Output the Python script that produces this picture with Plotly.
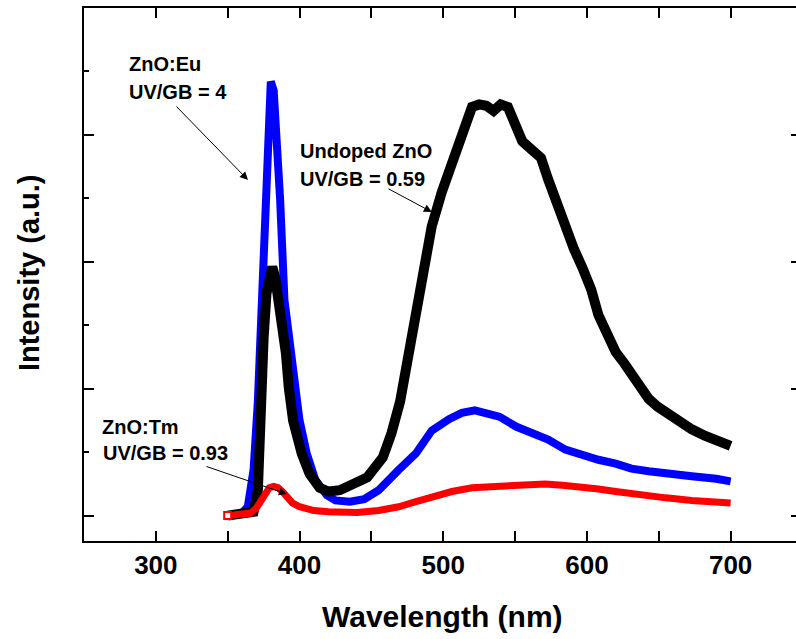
import plotly.graph_objects as go

# ---- data ----
wl_undoped = [350, 360, 368, 371, 372, 373, 375, 377, 379, 381, 383, 385, 388, 390.5, 392.5, 395.5,
              401.5, 407, 414, 420, 428, 437, 447, 458, 464, 470, 474, 481, 487, 492, 499, 504,
              511, 516, 520, 525, 530, 535, 540, 545, 549, 555, 562, 568, 573, 578, 585, 591,
              597, 603, 608, 614, 620, 626, 631, 637, 643, 649, 655, 664, 673, 682, 690, 696, 700]
int_undoped = [0.0, 0.01, 0.03, 0.2, 0.6, 1.0, 1.4, 1.75, 1.92, 1.96, 1.88, 1.75, 1.55, 1.28, 1.01, 0.75,
               0.49, 0.33, 0.22, 0.19, 0.2, 0.24, 0.3, 0.46, 0.65, 0.9, 1.15, 1.55, 1.95, 2.28, 2.55, 2.72,
               2.95, 3.12, 3.22, 3.24, 3.23, 3.19, 3.24, 3.22, 3.1, 2.95, 2.88, 2.82, 2.65, 2.5, 2.25, 2.1,
               1.95, 1.78, 1.58, 1.42, 1.29, 1.2, 1.12, 1.0, 0.92, 0.86, 0.81, 0.75, 0.68, 0.63, 0.59, 0.56, 0.55]

wl_eu = [350, 360, 364, 368, 371, 373.5, 376, 378, 380, 382, 384.3, 386.5, 389.5, 392, 395, 397,
         400, 405, 411, 419, 425, 435, 445, 455, 462, 469, 481, 492, 504, 513, 522, 530, 539,
         551, 562, 573, 585, 597, 608, 620, 631, 643, 655, 673, 690, 700]
int_eu = [0.0, 0.02, 0.07, 0.36, 0.9, 1.6, 2.49, 3.0, 3.42, 3.35, 3.0, 2.49, 1.7, 1.5, 1.25, 1.0,
          0.75, 0.49, 0.28, 0.16, 0.12, 0.11, 0.13, 0.2, 0.27, 0.36, 0.49, 0.67, 0.76, 0.81, 0.83, 0.81, 0.78,
          0.7, 0.65, 0.6, 0.52, 0.47, 0.44, 0.41, 0.37, 0.35, 0.34, 0.31, 0.29, 0.27]

wl_tm = [350, 360, 366, 370, 373, 376, 379, 382, 385, 388, 391, 395, 400, 410, 420, 440, 455, 469,
         481, 492, 506, 520, 533, 546, 559, 571, 583, 594, 608, 620, 631, 643, 655, 673, 690, 700]
int_tm = [0.0, 0.01, 0.02, 0.06, 0.12, 0.18, 0.22, 0.23, 0.22, 0.19, 0.15, 0.1, 0.07, 0.04, 0.03, 0.025, 0.04, 0.07,
          0.11, 0.15, 0.19, 0.22, 0.23, 0.24, 0.24, 0.25, 0.24, 0.23, 0.21, 0.19, 0.17, 0.15, 0.14, 0.12, 0.11, 0.1]

x_major_ticks = [300, 400, 500, 600, 700]
x_tick_labels = ["300", "400", "500", "600", "700"]

# annotation texts
label_lines = [
    ("ZnO:Eu", 279.9, 3.56),
    ("UV/GB = 4", 279.9, 3.34),
    ("Undoped ZnO", 398.9, 2.87),
    ("UV/GB = 0.59", 398.9, 2.65),
    ("ZnO:Tm", 261.1, 0.70),
    ("UV/GB = 0.93", 261.8, 0.49),
]
# arrows: (tail_x, tail_y, head_x, head_y)
arrows = [
    (313.3, 3.236, 364.1, 2.645),
    (460.8, 2.582, 492.1, 2.392),
    (334.2, 0.391, 391.2, 0.170),
]

FONT = "Liberation Sans"

fig = go.Figure()
fig.add_trace(go.Scatter(x=wl_eu, y=int_eu, mode="lines",
                         line=dict(color="#0000ff", width=8), showlegend=False, name="ZnO:Eu"))
fig.add_trace(go.Scatter(x=wl_undoped, y=int_undoped, mode="lines",
                         line=dict(color="#000000", width=10), showlegend=False, name="Undoped ZnO"))
fig.add_trace(go.Scatter(x=wl_tm, y=int_tm, mode="lines",
                         line=dict(color="#ff0000", width=7), showlegend=False, name="ZnO:Tm"))
# first Tm point drawn as an open square, as in the reference
fig.add_trace(go.Scatter(x=wl_tm[:1], y=int_tm[:1], mode="markers",
                         marker=dict(symbol="square", size=7, color="white",
                                     line=dict(color="#ff0000", width=2)),
                         showlegend=False, hoverinfo="skip"))
# empty trace to anchor the right-hand tick axis
fig.add_trace(go.Scatter(x=[], y=[], yaxis="y2", showlegend=False))

annotations = []
for txt, x, y in label_lines:
    annotations.append(dict(x=x, y=y, xref="x", yref="y", text="<b>%s</b>" % txt,
                            showarrow=False, xanchor="left", yanchor="middle",
                            font=dict(family=FONT, size=20, color="black")))
for tx, ty, hx, hy in arrows:
    annotations.append(dict(x=hx, y=hy, ax=tx, ay=ty, xref="x", yref="y", axref="x", ayref="y",
                            text="", showarrow=True, arrowhead=2, arrowsize=1.6, arrowwidth=1,
                            arrowcolor="black"))
annotations.append(dict(x=-0.077, y=0.503, xref="paper", yref="paper", text="<b>Intensity (a.u.)</b>",
                        textangle=-90, showarrow=False, xanchor="center", yanchor="middle",
                        font=dict(family=FONT, size=29, color="black")))
annotations.append(dict(x=0.504, y=-0.142, xref="paper", yref="paper", text="<b>Wavelength (nm)</b>",
                        showarrow=False, xanchor="center", yanchor="middle",
                        font=dict(family=FONT, size=30, color="black")))

fig.update_layout(
    width=796, height=639,
    margin=dict(l=84, r=0, t=8, b=98),
    paper_bgcolor="white", plot_bgcolor="white",
    annotations=annotations,
    xaxis=dict(range=[250, 745.5], showgrid=False, zeroline=False,
               showline=True, linecolor="black", linewidth=2, mirror="allticks",
               ticks="inside", ticklen=10, tickwidth=1.5, tickcolor="black",
               tickvals=x_major_ticks, ticktext=["<b>%s</b>" % t for t in x_tick_labels],
               tickfont=dict(family=FONT, size=26, color="black"),
               minor=dict(ticks="inside", ticklen=5, tickwidth=1.5, tickcolor="black", dtick=50, tick0=250)),
    yaxis=dict(range=[-0.2, 4.0], showgrid=False, zeroline=False,
               showline=True, linecolor="black", linewidth=2, mirror=False,
               ticks="inside", ticklen=10, tickwidth=1.5, tickcolor="black",
               tickvals=[0, 1, 2, 3], showticklabels=False,
               minor=dict(ticks="inside", ticklen=5, tickwidth=1.5, tickcolor="black", dtick=0.5, tick0=0)),
    yaxis2=dict(range=[-0.2, 4.0], overlaying="y", side="right", anchor="free", position=1.0,
                showgrid=False, zeroline=False, showline=False,
                ticks="inside", ticklen=5, tickwidth=1.5, tickcolor="black",
                tickvals=[0, 1, 2, 3], showticklabels=False),
)

fig.write_html("out.html", config={"displayModeBar": False},
               post_script="document.body.style.margin='0';document.body.style.overflow='hidden';")
